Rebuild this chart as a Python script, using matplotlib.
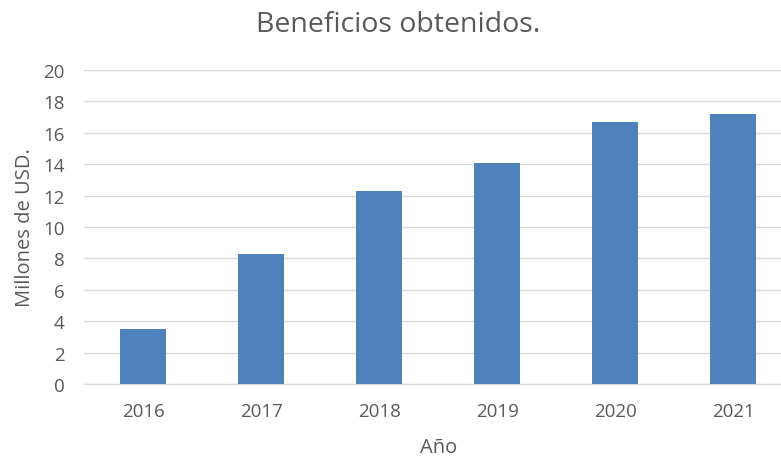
import matplotlib.pyplot as plt

years = ["2016", "2017", "2018", "2019", "2020", "2021"]
beneficios = [3.5, 8.3, 12.3, 14.1, 16.7, 17.2]
yticks = [0, 2, 4, 6, 8, 10, 12, 14, 16, 18, 20]

plt.rcParams['font.family'] = ['Open Sans', 'DejaVu Sans']
gris = "#595959"

fig = plt.figure(figsize=(7.81, 4.6), dpi=100)
ax = fig.add_axes([0.1076, 0.163, 0.907, 0.683])

x = range(len(years))
ax.bar(x, beneficios, width=0.39, color="#4F81BD", zorder=3)

ax.set_xlim(-0.5, len(years) - 0.5)
ax.set_ylim(0, 20)
ax.set_yticks(yticks)
ax.set_xticks(list(x))
ax.set_xticklabels(years)
ax.grid(axis="y", color="#D9D9D9", linewidth=1, zorder=0)

for s in ["top", "right", "left"]:
    ax.spines[s].set_visible(False)
ax.spines["bottom"].set_color("#D9D9D9")
ax.tick_params(axis="both", length=0, labelsize=13.5, labelcolor=gris)
ax.tick_params(axis="x", pad=13)
ax.tick_params(axis="y", pad=14)

ax.set_xlabel("Año", fontsize=14.5, color=gris, labelpad=12)
ax.set_ylabel("Millones de USD.", fontsize=14.5, color=gris, labelpad=6)
fig.text(0.51, 0.945, "Beneficios obtenidos.", fontsize=20.5, color=gris,
         ha="center", va="center")

fig.savefig("out.png", dpi=100)
